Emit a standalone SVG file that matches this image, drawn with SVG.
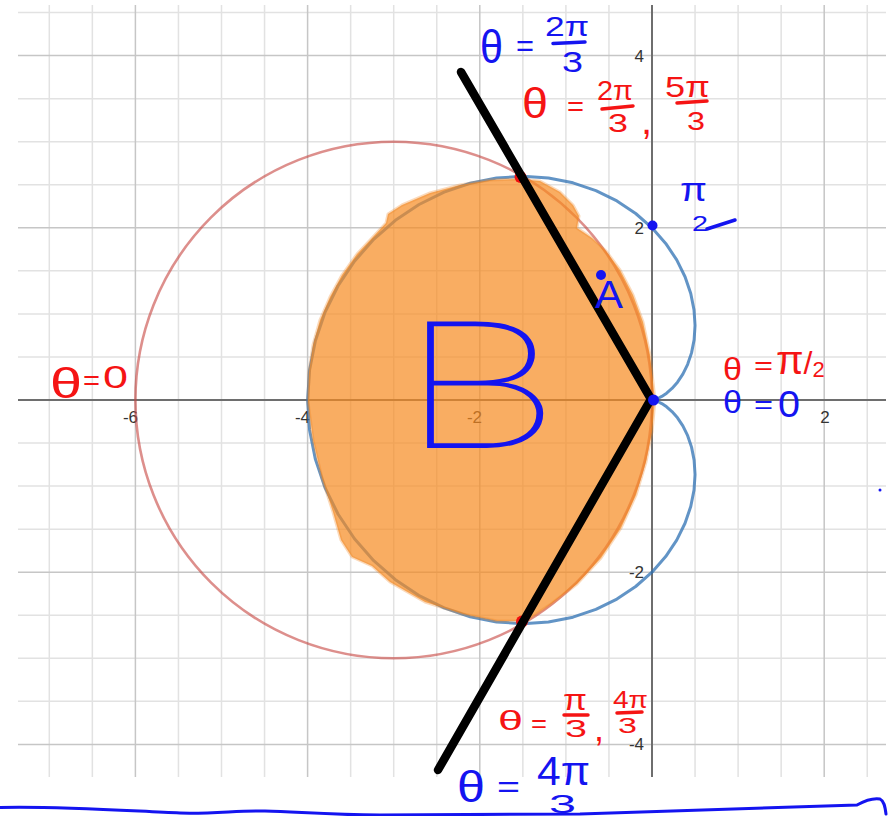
<svg xmlns="http://www.w3.org/2000/svg" width="890" height="816" viewBox="0 0 890 816">
<defs>
<style>
.minor{stroke:#e2e2e2;stroke-width:1.5;fill:none}
.major{stroke:#c6c6c6;stroke-width:1.5;fill:none}
.axis{stroke:#6e6e6e;stroke-width:2;fill:none}
.tick{font-family:"Liberation Sans",Arial,sans-serif;font-size:17px;fill:#333}
.hb{font-family:"Liberation Sans",Arial,sans-serif;fill:#1414f0}
.hr{font-family:"Liberation Sans",Arial,sans-serif;fill:#f51414}
.barb{stroke:#1414f0;stroke-width:3.5;stroke-linecap:round;fill:none}
.barr{stroke:#f51414;stroke-width:3.5;stroke-linecap:round;fill:none}
</style>
</defs>
<rect width="890" height="816" fill="#ffffff"/>
<g id="grid">
<path class="minor" d="M49.3 5V777M92.35 5V777M178.45 5V777M221.5 5V777M264.55 5V777M350.65 5V777M393.7 5V777M436.75 5V777M522.85 5V777M565.9 5V777M608.95 5V777M695.05 5V777M738.1 5V777M781.15 5V777M867.25 5V777M18 12.55H886M18 98.65H886M18 141.7H886M18 184.75H886M18 270.85H886M18 313.9H886M18 356.95H886M18 443.05H886M18 486.1H886M18 529.15H886M18 615.25H886M18 658.3H886M18 701.35H886"/>
<path class="major" d="M135.4 5V777M307.6 5V777M479.8 5V777M824.2 5V777M18 55.6H886M18 227.8H886M18 572.2H886M18 744.4H886"/>
</g>
<g id="axes">
<path class="axis" d="M18 400H886M652 5V777"/>
<text class="tick" x="138" y="423" text-anchor="end">-6</text>
<text class="tick" x="310" y="423" text-anchor="end">-4</text>
<text class="tick" x="482" y="423" text-anchor="end">-2</text>
<text class="tick" x="825" y="423" text-anchor="middle">2</text>
<text class="tick" x="644" y="62" text-anchor="end">4</text>
<text class="tick" x="644" y="234" text-anchor="end">2</text>
<text class="tick" x="644" y="578" text-anchor="end">-2</text>
<text class="tick" x="644" y="750" text-anchor="end">-4</text>
</g>
<g id="curves">
<circle id="red-circle" cx="393.7" cy="400" r="258.3" fill="none" stroke="#c74440" stroke-opacity="0.6" stroke-width="2.6"/>
<polyline id="cardioid" fill="none" stroke="#2d70b3" stroke-opacity="0.75" stroke-width="3" stroke-linejoin="round" points="652,400 652.65,399.94 654.58,399.55 657.67,398.48 661.76,396.45 666.62,393.18 671.98,388.47 677.51,382.14 682.86,374.10 687.66,364.34 691.54,352.88 694.12,339.85 695.05,325.43 694.02,309.89 690.75,293.53 685.03,276.72 676.71,259.86 665.70,243.41 652,227.8 635.68,213.50 616.90,200.97 595.89,190.62 572.96,182.84 548.47,177.97 522.85,176.30 496.58,178.04 470.16,183.29 444.13,192.13 419.04,204.52 395.40,220.32 373.72,239.33 354.49,261.27 338.13,285.76 325.00,312.38 315.41,340.65 309.57,370.04 307.6,400 309.57,429.96 315.41,459.35 325.00,487.62 338.13,514.24 354.49,538.73 373.72,560.67 395.40,579.68 419.04,595.48 444.13,607.87 470.16,616.71 496.58,621.96 522.85,623.70 548.47,622.03 572.96,617.16 595.89,609.38 616.90,599.03 635.68,586.50 652,572.2 665.70,556.59 676.71,540.14 685.03,523.28 690.75,506.47 694.02,490.11 695.05,474.57 694.12,460.15 691.54,447.12 687.66,435.66 682.86,425.90 677.51,417.86 671.98,411.53 666.62,406.82 661.76,403.55 657.67,401.52 654.58,400.45 652.65,400.06 652,400"/>
</g>
<g id="region-B">
<polygon fill="#f68a1f" fill-opacity="0.7" stroke="#ef8420" stroke-opacity="0.3" stroke-width="3" stroke-linejoin="round" points="518,179 540,181 560,192 573,205 579,216 577,228 592,238 606,251 620,270 633,295 643,322 650,355 655,400 652,432 646,462 636,495 621,528 601,558 577,584 551,604 526,621 497,621 463,614 425,602 390,582 372,566 352,557 341,540 333,512 322,478 313,440 308,402 309,372 313,345 320,320 330,297 342,275 357,254 372,238 386,223 388,214 402,205 430,193 460,185 490,180"/>
</g>
<g id="points-red">
<circle cx="520.5" cy="177" r="6" fill="#f01010"/>
<circle cx="522" cy="621.5" r="6" fill="#f01010"/>
</g>
<g id="rays">
<polyline points="461,72 651,399 438,770" fill="none" stroke="#000" stroke-width="8.5" stroke-linecap="round" stroke-linejoin="round"/>
</g>
<g id="points-blue">
<circle cx="652.5" cy="225.5" r="5" fill="#1414f0"/>
<circle cx="653.5" cy="400" r="5.5" fill="#1414f0"/>
<circle cx="601" cy="275" r="5" fill="#1414f0"/>
<circle cx="880" cy="490" r="1.5" fill="#1414f0"/>
</g>
<g id="label-top-blue">
<text class="hb" x="480" y="63" font-size="46" textLength="23" lengthAdjust="spacingAndGlyphs">θ</text>
<text class="hb" x="516" y="56" font-size="30" textLength="18" lengthAdjust="spacingAndGlyphs">=</text>
<text class="hb" x="545" y="36" font-size="28" textLength="44" lengthAdjust="spacingAndGlyphs">2π</text>
<line class="barb" x1="553" y1="43.5" x2="585" y2="42"/>
<text class="hb" x="562" y="72" font-size="30" textLength="21" lengthAdjust="spacingAndGlyphs">3</text>
</g>
<g id="label-top-red">
<text class="hr" x="522" y="118" font-size="42" textLength="26" lengthAdjust="spacingAndGlyphs">θ</text>
<text class="hr" x="567" y="116" font-size="28" textLength="17" lengthAdjust="spacingAndGlyphs">=</text>
<text class="hr" x="597" y="100" font-size="28" textLength="36" lengthAdjust="spacingAndGlyphs">2π</text>
<line class="barr" x1="602" y1="109" x2="633" y2="106"/>
<text class="hr" x="608" y="132" font-size="26" textLength="20" lengthAdjust="spacingAndGlyphs">3</text>
<text class="hr" x="641" y="134" font-size="40">,</text>
<text class="hr" x="665" y="97" font-size="30" textLength="45" lengthAdjust="spacingAndGlyphs">5π</text>
<line class="barr" x1="677" y1="103" x2="707" y2="101"/>
<text class="hr" x="687" y="130" font-size="26" textLength="18" lengthAdjust="spacingAndGlyphs">3</text>
</g>
<g id="label-pi-half">
<text class="hb" x="680" y="201" font-size="34" textLength="27" lengthAdjust="spacingAndGlyphs">π</text>
<text class="hb" x="692" y="231" font-size="22" textLength="16" lengthAdjust="spacingAndGlyphs">2</text>
<line class="barb" x1="707" y1="229" x2="735" y2="220"/>
</g>
<g id="label-origin">
<text class="hr" x="723" y="380" font-size="32" textLength="19" lengthAdjust="spacingAndGlyphs">θ</text>
<text class="hr" x="754" y="374" font-size="26" textLength="19" lengthAdjust="spacingAndGlyphs">=</text>
<text class="hr" x="776" y="374" font-size="40">π<tspan font-size="32">/</tspan><tspan font-size="22" dy="3">2</tspan></text>
<text class="hb" x="723" y="413" font-size="32" textLength="19" lengthAdjust="spacingAndGlyphs">θ</text>
<text class="hb" x="754" y="413" font-size="26" textLength="19" lengthAdjust="spacingAndGlyphs">=</text>
<text class="hb" x="778" y="417" font-size="36" textLength="22" lengthAdjust="spacingAndGlyphs">0</text>
</g>
<g id="label-left">
<text class="hr" x="50" y="398" font-size="42" textLength="32" lengthAdjust="spacingAndGlyphs">θ</text>
<text class="hr" x="83" y="390" font-size="28" textLength="17" lengthAdjust="spacingAndGlyphs">=</text>
<text class="hr" x="103" y="388" font-size="31" textLength="25" lengthAdjust="spacingAndGlyphs">0</text>
</g>
<g id="label-A">
<text class="hb" x="595" y="308" font-size="39" textLength="28" lengthAdjust="spacingAndGlyphs">A</text>
</g>
<g id="label-B">
<text x="402" y="448" font-family="Roboto,Inter,Lato,'DejaVu Sans',sans-serif" font-weight="100" font-size="178" fill="#1414f0" textLength="155" lengthAdjust="spacingAndGlyphs">B</text>
</g>
<g id="label-bottom-red">
<text class="hr" x="498" y="730" font-size="28" textLength="25" lengthAdjust="spacingAndGlyphs">θ</text>
<text class="hr" x="531" y="732" font-size="26" textLength="16" lengthAdjust="spacingAndGlyphs">=</text>
<text class="hr" x="563" y="710" font-size="30" textLength="24" lengthAdjust="spacingAndGlyphs">π</text>
<line class="barr" x1="564" y1="715" x2="588" y2="715"/>
<text class="hr" x="565" y="737" font-size="24" textLength="22" lengthAdjust="spacingAndGlyphs">3</text>
<text class="hr" x="594" y="741" font-size="36">,</text>
<text class="hr" x="613" y="708" font-size="24" textLength="35" lengthAdjust="spacingAndGlyphs">4π</text>
<line class="barr" x1="617" y1="713" x2="642" y2="712"/>
<text class="hr" x="618" y="733" font-size="22" textLength="19" lengthAdjust="spacingAndGlyphs">3</text>
</g>
<g id="label-bottom-blue">
<text class="hb" x="457" y="802" font-size="44" textLength="28" lengthAdjust="spacingAndGlyphs">θ</text>
<text class="hb" x="497" y="797" font-size="30" textLength="23" lengthAdjust="spacingAndGlyphs">=</text>
<text class="hb" x="537" y="785" font-size="40" textLength="53" lengthAdjust="spacingAndGlyphs">4π</text>
<text class="hb" x="549" y="813" font-size="25" textLength="27" lengthAdjust="spacingAndGlyphs">3</text>
</g>
<g id="underline">
<path d="M0 807.5C60 806 130 811 180 813C215 814 240 810 265 811C300 812 330 815 380 815L580 814L857 805C866 800 874 798 880 799C884 801 885 806 886 814" fill="none" stroke="#1414f0" stroke-width="3" stroke-linecap="round" stroke-linejoin="round"/>
</g>
</svg>
